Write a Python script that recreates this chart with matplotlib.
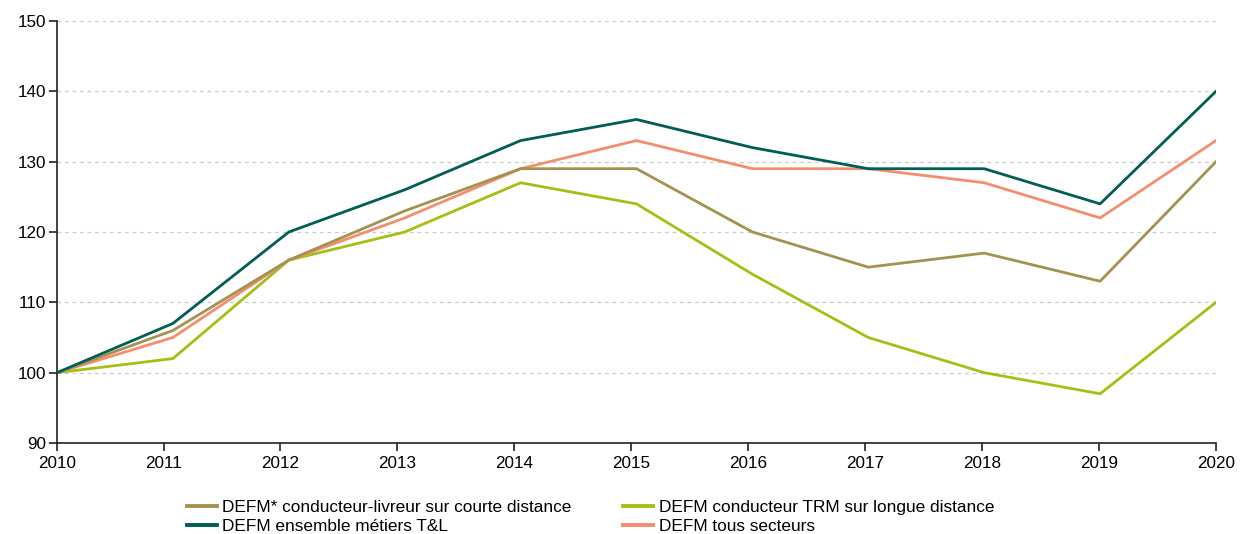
import matplotlib
matplotlib.use("Agg")
import matplotlib.pyplot as plt
from matplotlib.lines import Line2D

years = [2010, 2011, 2012, 2013, 2014, 2015, 2016, 2017, 2018, 2019, 2020]
livreur = [100, 106, 116, 123, 129, 129, 120, 115, 117, 113, 130]
trm = [100, 102, 116, 120, 127, 124, 114, 105, 100, 97, 110]
ensemble = [100, 107, 120, 126, 133, 136, 132, 129, 129, 124, 140]
tous = [100, 105, 116, 122, 129, 133, 129, 129, 127, 122, 133]

labels = {
    "livreur": "DEFM* conducteur-livreur sur courte distance",
    "trm": "DEFM conducteur TRM sur longue distance",
    "ensemble": "DEFM ensemble métiers T&L",
    "tous": "DEFM tous secteurs",
}
colors = {
    "livreur": "#A39250",
    "trm": "#A5C014",
    "ensemble": "#005E54",
    "tous": "#F58E6E",
}

plt.rcParams['font.family'] = ['Liberation Sans', 'DejaVu Sans']

fig = plt.figure(figsize=(12.41, 5.34), dpi=100)
ax = fig.add_axes([57/1241, (534-443)/534, (1216-57)/1241, (443-21)/534])

x = list(range(len(years)))
lw = 2.0
ax.plot(x, trm, color=colors["trm"], lw=lw, zorder=3)
ax.plot(x, tous, color=colors["tous"], lw=lw, zorder=3)
ax.plot(x, livreur, color=colors["livreur"], lw=lw, zorder=4)
ax.plot(x, ensemble, color=colors["ensemble"], lw=lw, zorder=5)

ax.set_xlim(0, 10)
ax.set_ylim(90, 150)
# tick positions as on the reference (slightly offset from data points)
tick_pos = [0] + [1.009 * k - 0.09 for k in range(1, 11)]
ax.set_xticks(tick_pos)
ax.set_xticklabels([str(y) for y in years])
ax.set_yticks(range(90, 151, 10))

for s in ["top", "right"]:
    ax.spines[s].set_visible(False)
for s in ["left", "bottom"]:
    ax.spines[s].set_color("#222222")
    ax.spines[s].set_linewidth(1.2)
ax.tick_params(axis="both", labelsize=12.3, colors="#222222", length=6, width=1.2, direction="out")
ax.tick_params(axis="x", pad=3)
ax.tick_params(axis="y", pad=2)
for lab in ax.get_xticklabels() + ax.get_yticklabels():
    lab.set_color("black")

ax.yaxis.grid(True, linestyle=(0, (3, 3)), color="#cccccc", linewidth=0.9)
ax.set_axisbelow(True)
ax.patch.set_visible(False)

order = ["livreur", "ensemble", "trm", "tous"]
handles = [Line2D([], [], color=colors[k], lw=2.8) for k in order]
fig.legend(handles, [labels[k] for k in order], ncol=2, loc="upper left",
           bbox_to_anchor=(187/1241, 1 - 500/534), frameon=False, fontsize=12.4,
           handlelength=1.75, handletextpad=0.3, columnspacing=3.0,
           labelspacing=0.22, borderaxespad=0, borderpad=0)

fig.savefig("out.png", dpi=100)
